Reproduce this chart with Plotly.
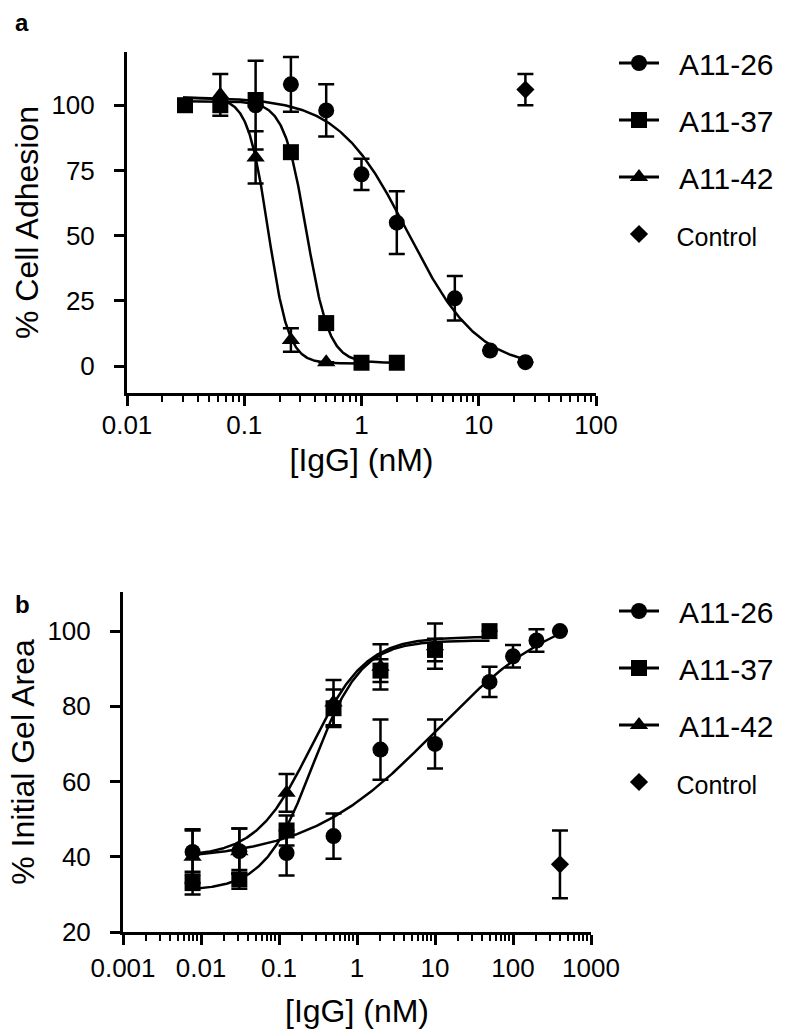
import numpy as np
import plotly.graph_objects as go

# ---------------- Panel a data ----------------
a_x_26 = [0.125, 0.25, 0.5, 1, 2, 6.25, 12.5, 25]
a_y_26 = [100, 108, 98, 73.5, 55, 26, 6, 1.5]
a_e_26 = [17, 10.5, 10, 6, 12, 8.5, 0, 0]

a_x_37 = [0.03125, 0.0625, 0.125, 0.25, 0.5, 1, 2]
a_y_37 = [100, 100, 102, 82, 16.5, 1.3, 1.3]

a_x_42 = [0.0625, 0.125, 0.25, 0.5]
a_y_42 = [104, 80, 10, 1.5]
a_e_42 = [8, 10, 4.5, 0]

a_x_ctrl = [25]
a_y_ctrl = [106]
a_e_ctrl = [6]

# fitted 4-parameter logistic curves: [bottom, top, IC50, hill, xmin, xmax]
a_fit_26 = [-1, 103, 2.5, 1.45, 0.03, 25]
a_fit_37 = [1.3, 101.5, 0.34, 4.5, 0.03, 2]
a_fit_42 = [1, 103, 0.16, 5.0, 0.03, 1]

# ---------------- Panel b data ----------------
b_x_26 = [0.0078, 0.031, 0.125, 0.5, 2, 10, 50, 100, 200, 400]
b_y_26 = [41.3, 41.5, 41, 45.5, 68.5, 70, 86.5, 93.3, 97.5, 100]
b_e_26 = [6, 6, 6, 6, 8, 6.5, 4, 3, 3, 0]

b_x_37 = [0.0078, 0.031, 0.125, 0.5, 2, 10, 50]
b_y_37 = [33, 34, 47, 79.5, 89.5, 95, 100]
b_e_37 = [3, 2.5, 4, 5, 3, 3, 0]

b_x_42 = [0.0078, 0.031, 0.125, 0.5, 2, 10]
b_y_42 = [40, 41.5, 57, 81, 90.5, 96]
b_e_42 = [7, 6, 5, 6, 6, 6]

b_x_ctrl = [400]
b_y_ctrl = [38]
b_e_ctrl = [9]

# increasing fits: [bottom, top, EC50, hill, xmin, xmax]
b_fit_26 = [39, 108, 10.3, 0.53, 0.0078, 400]
b_fit_37 = [31, 97.5, 0.27, 1.4, 0.0078, 50]
b_fit_42 = [40, 98.5, 0.257, 1.24, 0.0078, 50]

a_ticks_x = [0.01, 0.1, 1, 10, 100]
a_ticktext_x = ["0.01", "0.1", "1", "10", "100"]
a_ticks_y = [0, 25, 50, 75, 100]
b_ticks_x = [0.001, 0.01, 0.1, 1, 10, 100, 1000]
b_ticktext_x = ["0.001", "0.01", "0.1", "1", "10", "100", "1000"]
b_ticks_y = [20, 40, 60, 80, 100]

names = ["A11-26", "A11-37", "A11-42"]
symbols = ["circle", "square", "triangle-up"]
control_name = "Control"

FONT = "Liberation Sans, Arial, sans-serif"
BLACK = "black"
GAP = "\u2002"  # small gap between legend symbol and text


def fit_curve(p, decreasing):
    bottom, top, c, h, x0, x1 = p
    xs = np.logspace(np.log10(x0), np.log10(x1), 300)
    if decreasing:
        ys = bottom + (top - bottom) / (1 + (xs / c) ** h)
    else:
        ys = bottom + (top - bottom) / (1 + (c / xs) ** h)
    return xs, ys


fig = go.Figure()

MS = 16
EB = dict(type="data", color=BLACK, thickness=2.5, width=8, visible=True)


def add_panel(xa, ya, legend, fits, pts, ctrl, decreasing):
    for (fp, name, sym, (px, py, pe)) in zip(fits, names, symbols, pts):
        xs, ys = fit_curve(fp, decreasing)
        fig.add_trace(go.Scatter(x=xs, y=ys, mode="lines", xaxis=xa, yaxis=ya,
                                 line=dict(color=BLACK, width=2.5), showlegend=False,
                                 hoverinfo="skip"))
        err = dict(EB, array=pe) if pe is not None else None
        fig.add_trace(go.Scatter(x=px, y=py, mode="markers", xaxis=xa, yaxis=ya,
                                 marker=dict(symbol=sym, size=MS, color=BLACK),
                                 error_y=err, showlegend=False, cliponaxis=False))
    for name, sym in zip(names, symbols):
        fig.add_trace(go.Scatter(x=[None], y=[None], mode="lines+markers", name=GAP + name,
                                 xaxis=xa, yaxis=ya, legend=legend, legendgroup=legend + name,
                                 line=dict(color=BLACK, width=3),
                                 marker=dict(symbol=sym, size=MS, color=BLACK)))
    cx, cy, ce = ctrl
    fig.add_trace(go.Scatter(x=cx, y=cy, mode="markers", xaxis=xa, yaxis=ya,
                             marker=dict(symbol="diamond", size=14, color=BLACK),
                             error_y=dict(EB, array=ce), showlegend=False))
    fig.add_trace(go.Scatter(x=[None], y=[None], mode="markers",
                             name='<span style="font-size:25px">' + GAP + control_name + '</span>',
                             xaxis=xa, yaxis=ya, legend=legend, legendgroup=legend + "ctrl",
                             marker=dict(symbol="diamond", size=14, color=BLACK)))


add_panel("x", "y", "legend", [a_fit_26, a_fit_37, a_fit_42],
          [(a_x_26, a_y_26, a_e_26), (a_x_37, a_y_37, None), (a_x_42, a_y_42, a_e_42)],
          (a_x_ctrl, a_y_ctrl, a_e_ctrl), True)
add_panel("x2", "y2", "legend2", [b_fit_26, b_fit_37, b_fit_42],
          [(b_x_26, b_y_26, b_e_26), (b_x_37, b_y_37, b_e_37), (b_x_42, b_y_42, b_e_42)],
          (b_x_ctrl, b_y_ctrl, b_e_ctrl), False)


def minor_vals(lo, hi):
    v = []
    for d in range(lo, hi):
        for k in range(2, 10):
            v.append(k * 10.0 ** d)
    return v


W, H = 800, 1032
common_axis = dict(showline=True, linewidth=3, linecolor=BLACK, ticks="outside",
                   ticklen=10, tickwidth=2.5, tickcolor=BLACK, showgrid=False, zeroline=False,
                   automargin=False,
                   tickfont=dict(family=FONT, size=26, color=BLACK),
                   title_font=dict(family=FONT, size=32, color=BLACK))
minor_common = dict(ticks="outside", ticklen=6, tickwidth=2, tickcolor=BLACK, tickmode="array")

fig.update_layout(
    width=W, height=H, margin=dict(l=0, r=0, t=0, b=0),
    paper_bgcolor="white", plot_bgcolor="white",
    font=dict(family=FONT, color=BLACK),
    xaxis=dict(common_axis, type="log", domain=[127 / W, 596 / W], anchor="y",
               range=[-2, 2], tickmode="array", tickvals=a_ticks_x, ticktext=a_ticktext_x,
               minor=dict(minor_common, tickvals=minor_vals(-2, 2)), ticklabelstandoff=-3,
               title=dict(text="[IgG] (nM)", standoff=10)),
    yaxis=dict(common_axis, domain=[1 - 393 / H, 1 - 52 / H], anchor="x",
               range=[-10.3, 120.4], tickmode="array", tickvals=a_ticks_y, ticklabelstandoff=14,
               title=dict(text="% Cell Adhesion", standoff=4)),
    xaxis2=dict(common_axis, type="log", domain=[123 / W, 591 / W], anchor="y2",
                range=[-3, 3], tickmode="array", tickvals=b_ticks_x, ticktext=b_ticktext_x,
                minor=dict(minor_common, tickvals=minor_vals(-3, 3)), ticklabelstandoff=1,
                title=dict(text="[IgG] (nM)", standoff=18)),
    yaxis2=dict(common_axis, domain=[1 - 932 / H, 1 - 592 / H], anchor="x2",
                range=[20, 110.4], tickmode="array", tickvals=b_ticks_y, ticklabelstandoff=14,
                title=dict(text="% Initial Gel Area", standoff=4)),
    legend=dict(x=614 / W, y=1 - 37 / H, xanchor="left", yanchor="top",
                font=dict(family=FONT, size=30, color=BLACK), tracegroupgap=15,
                bgcolor="rgba(0,0,0,0)", itemwidth=40),
    legend2=dict(x=614 / W, y=1 - 585 / H, xanchor="left", yanchor="top",
                 font=dict(family=FONT, size=30, color=BLACK), tracegroupgap=15,
                 bgcolor="rgba(0,0,0,0)", itemwidth=40),
    annotations=[
        dict(text="<b>a</b>", x=13 / W, y=1 - 22 / H, xref="paper", yref="paper",
             xanchor="left", yanchor="middle", showarrow=False,
             font=dict(family=FONT, size=24, color=BLACK)),
        dict(text="<b>b</b>", x=13 / W, y=1 - 604 / H, xref="paper", yref="paper",
             xanchor="left", yanchor="middle", showarrow=False,
             font=dict(family=FONT, size=24, color=BLACK)),
    ],
)

fig.write_html("out.html", config={"displayModeBar": False},
               post_script="document.body.style.margin='0';")
